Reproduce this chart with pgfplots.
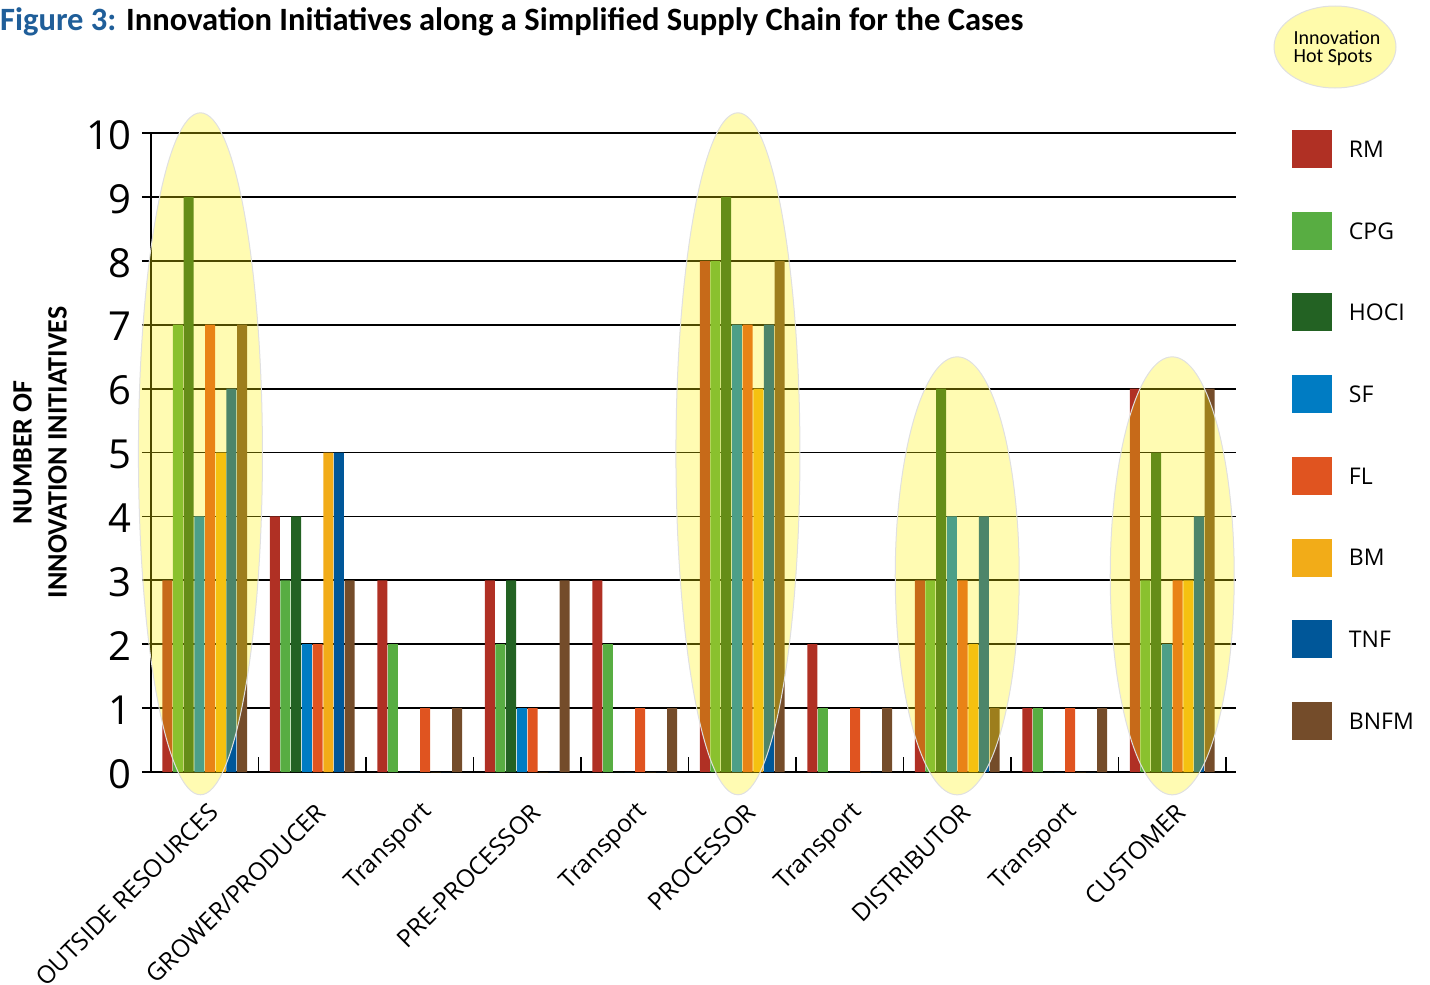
\documentclass[border=0pt]{standalone}
\usepackage{fontspec}
\setmainfont{Carlito}
\newfontfamily\osans{Open Sans}
\usepackage{pgfplots}
\pgfplotsset{compat=1.18}
\usepackage{pgfplotstable}
\usetikzlibrary{shapes.geometric}
\definecolor{cRM}{RGB}{176,48,36}
\definecolor{cCPG}{RGB}{88,173,66}
\definecolor{cHOCI}{RGB}{35,98,35}
\definecolor{cSF}{RGB}{0,124,195}
\definecolor{cFL}{RGB}{224,84,32}
\definecolor{cBM}{RGB}{242,172,24}
\definecolor{cTNF}{RGB}{0,87,153}
\definecolor{cBNFM}{RGB}{116,76,42}
\definecolor{figblue}{RGB}{31,94,153}
\pgfplotsset{sq/.style={legend image code/.code={\fill[##1,draw=none] (0pt,-18pt) rectangle (40pt,20pt);}}}
\pgfplotstableread{
cat RM CPG HOCI SF FL BM TNF BNFM
0 3 7 9 4 7 5 6 7
1 4 3 4 2 2 5 5 3
2 3 2 0 0 1 0 0 1
3 3 2 3 1 1 0 0 3
4 3 2 0 0 1 0 0 1
5 8 8 9 7 7 6 7 8
6 2 1 0 0 1 0 0 1
7 3 3 6 4 3 2 4 1
8 1 1 0 0 1 0 0 1
9 6 3 5 2 3 3 4 6
}\datatable
\tikzset{hotspot/.style={ellipse, fill=yellow, fill opacity=0.3, draw=black!12, draw opacity=1, line width=1pt, inner sep=0pt}}
\begin{document}
\begin{tikzpicture}
\useasboundingbox (0,0) rectangle (1430pt,-985pt);
\node[anchor=base west, inner sep=0pt] at (0pt,-30pt) {\resizebox{1023pt}{!}{\fontsize{30}{36}\selectfont\bfseries{\color{figblue}Figure 3:} Innovation Initiatives along a Simplified Supply Chain for the Cases}};
\node[ellipse, fill=yellow!33, draw=black!12, line width=1pt, minimum width=122pt, minimum height=82pt, inner sep=0pt] at (1335pt,-47pt) {};
\node[align=left, font=\fontsize{20}{18}\selectfont, inner sep=0pt] at (1337pt,-48pt) {Innovation\\Hot Spots};
\begin{axis}[
  at={(151pt,-772pt)}, anchor=south west,
  scale only axis, width=1085pt, height=639pt,
  xmin=-0.5, xmax=9.593, ymin=0, ymax=10,
  axis lines*=left,
  axis line style={-},
  x axis line style={black, line width=2.2pt},
  y axis line style={black, line width=1.6pt},
  clip=false,
  ybar=0.7pt, bar width=10pt,
  xtick={0,...,9},
  xticklabels={OUTSIDE RESOURCES, GROWER/PRODUCER, Transport, PRE-PROCESSOR, Transport, PROCESSOR, Transport, DISTRIBUTOR, Transport, CUSTOMER},
  minor xtick={-0.5,0.5,...,9.5},
  ytick={0,...,10},
  tick align=inside,
  major tick length=9pt,
  minor tick length=15pt,
  major x tick style={draw=none},
  minor x tick style={black, line width=1.6pt},
  ytick style={black, line width=1.8pt, xshift=-9pt},
  ymajorgrids,
  major grid style={black, line width=1.8pt},
  /pgf/number format/assume math mode=true,
  yticklabel style={font=\osans\fontsize{40}{40}\selectfont, inner sep=0pt, anchor=east, xshift=-19pt, yshift=-2pt},
  xticklabel style={font=\osans\fontsize{24.5}{24.5}\selectfont, inner sep=0pt, xshift=9pt, yshift=-36pt, rotate=45, anchor=east},
  ylabel={NUMBER OF\\INNOVATION INITIATIVES},
  every axis y label/.style={at={(axis description cs:-0.1023,0.5)}, rotate=90, anchor=center, align=center, font=\bfseries\fontsize{28}{35}\selectfont},
  legend style={at={(1.0516,1.0047)}, anchor=north west, draw=none, fill=none, inner sep=0pt, outer sep=0pt, font=\osans\fontsize{23}{23}\selectfont, row sep=43.7pt, nodes={inner sep=0pt}, /tikz/every odd column/.append style={column sep=17pt}},
  legend cell align=left,
]
\addplot[fill=cRM, draw=none, sq] table[x=cat, y=RM] {\datatable};
\addlegendentry{RM}
\addplot[fill=cCPG, draw=none, sq] table[x=cat, y=CPG] {\datatable};
\addlegendentry{CPG}
\addplot[fill=cHOCI, draw=none, sq] table[x=cat, y=HOCI] {\datatable};
\addlegendentry{HOCI}
\addplot[fill=cSF, draw=none, sq] table[x=cat, y=SF] {\datatable};
\addlegendentry{SF}
\addplot[fill=cFL, draw=none, sq] table[x=cat, y=FL] {\datatable};
\addlegendentry{FL}
\addplot[fill=cBM, draw=none, sq] table[x=cat, y=BM] {\datatable};
\addlegendentry{BM}
\addplot[fill=cTNF, draw=none, sq] table[x=cat, y=TNF] {\datatable};
\addlegendentry{TNF}
\addplot[fill=cBNFM, draw=none, sq] table[x=cat, y=BNFM] {\datatable};
\addlegendentry{BNFM}
\node[hotspot, minimum width=124pt, minimum height=682pt] at (axis cs:-0.04,4.98) {};
\node[hotspot, minimum width=124pt, minimum height=682pt] at (axis cs:4.96,4.98) {};
\node[hotspot, minimum width=124pt, minimum height=438pt] at (axis cs:7.0,3.07) {};
\node[hotspot, minimum width=124pt, minimum height=438pt] at (axis cs:9.0,3.07) {};
\end{axis}
\end{tikzpicture}
\end{document}
